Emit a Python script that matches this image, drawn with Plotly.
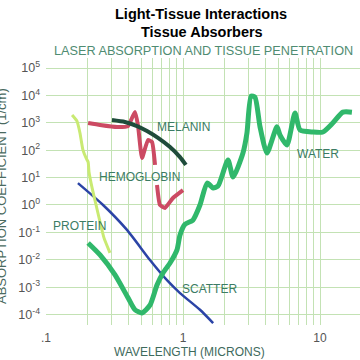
import plotly.graph_objects as go

# ---- data (wavelength in microns, absorption in 1/cm) ----
water_wl = [0.203, 0.248, 0.319, 0.397, 0.446, 0.502, 0.574, 0.646, 0.714, 0.804, 0.904, 0.951,
            1.034, 1.18, 1.33, 1.50, 1.66, 1.80, 2.13, 2.32, 2.74, 2.93, 3.14, 3.35, 3.65, 4.10,
            4.85, 5.11, 5.74, 6.57, 7.14, 8.89, 10.5, 12.4, 14.7, 17.1]
water_abs = [0.041, 0.015, 0.0028, 0.00041, 0.00015, 0.000115, 0.00022, 0.0012, 0.0033, 0.0076,
             0.023, 0.081, 0.20, 0.28, 1.0, 6.3, 4.2, 4.9, 44, 10.5, 79, 430, 9500, 8700, 710,
             79, 710, 355, 155, 2300, 550, 460, 460, 980, 2450, 2450]

melanin_wl = [0.303, 0.377, 0.462, 0.546, 0.657, 0.804, 0.951, 1.05]
melanin_abs = [1260, 1070, 760, 500, 280, 130, 56, 29]

hemo_wl = [0.203, 0.248, 0.330, 0.397, 0.446, 0.469, 0.502, 0.555, 0.594, 0.625, None,
           0.646, 0.679, 0.739, 0.845, 1.0]
hemo_abs = [980, 830, 700, 760, 2500, 830, 52, 235, 200, 29, None,
            5.4, 1.0, 0.78, 1.8, 3.5]

protein_wl = [0.155, 0.168, 0.177, 0.186, 0.196, 0.203, 0.206, 0.217, 0.232, 0.248, 0.265, 0.293]
protein_abs = [1930, 1170, 425, 102, 52, 37, 16, 4.2, 1.0, 0.24, 0.063, 0.018]

scatter_wl = [0.171, 0.261, 0.390, 0.574, 0.764, 0.951, 1.33, 1.66]
scatter_abs = [6.3, 1.0, 0.123, 0.0098, 0.0018, 0.00061, 0.00015, 0.000049]

y_exponents = [5, 4, 3, 2, 1, 0, -1, -2, -3, -4]
x_major = [0.1, 1, 10]
x_major_text = [".1", "1", "10"]
x_minor = [0.2, 0.3, 0.4, 0.5, 0.6, 0.7, 0.8, 0.9, 2, 3, 4, 5, 6, 7, 8, 9]

labels = [  # text, log10 wavelength, log10 absorption
    ("MELANIN", 0.007, 2.85),
    ("HEMOGLOBIN", -0.314, 1.02),
    ("PROTEIN", -0.752, -0.77),
    ("WATER", 0.985, 1.86),
    ("SCATTER", 0.197, -3.07),
]

FONT = "Liberation Sans, Arial, sans-serif"
TEAL = "#3b7c64"
GRID = "#c3e2b4"

fig = go.Figure()
fig.add_trace(go.Scatter(x=scatter_wl, y=scatter_abs, mode="lines",
                         line=dict(color="#2b44a6", width=2.5, shape="spline", smoothing=0.6)))
fig.add_trace(go.Scatter(x=protein_wl, y=protein_abs, mode="lines",
                         line=dict(color="#c9ea72", width=3, shape="spline", smoothing=0.5)))
fig.add_trace(go.Scatter(x=hemo_wl, y=hemo_abs, mode="lines", connectgaps=False,
                         line=dict(color="#cc4a63", width=4, shape="spline", smoothing=0.4)))
fig.add_trace(go.Scatter(x=melanin_wl, y=melanin_abs, mode="lines",
                         line=dict(color="#1f4c3b", width=4, shape="spline", smoothing=0.6)))
fig.add_trace(go.Scatter(x=water_wl, y=water_abs, mode="lines",
                         line=dict(color="#30b86b", width=5, shape="spline", smoothing=0.6)))

for text, lx, ly in labels:
    fig.add_annotation(x=lx, y=ly, xref="x", yref="y", text=text, showarrow=False,
                       xanchor="center", yanchor="middle",
                       font=dict(family=FONT, size=12, color=TEAL))

def px_x(p):
    return (p - 46) / 314

def px_y(p):
    return (325 - p) / 267

# titles
fig.add_annotation(xref="paper", yref="paper", x=px_x(201), y=px_y(14),
                   xanchor="center", yanchor="middle",
                   text="<b>Light-Tissue Interactions</b>", showarrow=False,
                   font=dict(family=FONT, size=14.5, color="black"))
fig.add_annotation(xref="paper", yref="paper", x=px_x(202), y=px_y(32),
                   xanchor="center", yanchor="middle",
                   text="<b>Tissue Absorbers</b>", showarrow=False,
                   font=dict(family=FONT, size=14.5, color="black"))
fig.add_annotation(xref="paper", yref="paper", x=px_x(203), y=px_y(51),
                   xanchor="center", yanchor="middle",
                   text="LASER ABSORPTION AND TISSUE PENETRATION", showarrow=False,
                   font=dict(family=FONT, size=12.7, color="#4f8c72"))
fig.add_annotation(xref="paper", yref="paper", x=px_x(189), y=px_y(352),
                   xanchor="center", yanchor="middle",
                   text="WAVELENGTH (MICRONS)", showarrow=False,
                   font=dict(family=FONT, size=12, color="#3e6a5c"))
fig.add_annotation(xref="paper", yref="paper", x=px_x(2), y=px_y(196),
                   xanchor="center", yanchor="middle",
                   text="ABSORPTION COEFFICIENT (1/cm)", showarrow=False, textangle=-90,
                   font=dict(family=FONT, size=13, color="#4a6a60"))

fig.update_layout(
    width=360, height=360,
    margin=dict(l=46, r=0, t=58, b=35, autoexpand=False),
    paper_bgcolor="white", plot_bgcolor="white",
    showlegend=False,
    font=dict(family=FONT, size=12, color="#555555"),
)
fig.update_xaxes(type="log", range=[-1, 1.292], automargin=False,
                 tickmode="array", tickvals=x_major, ticktext=x_major_text,
                 ticklabelstandoff=4,
                 showgrid=True, gridcolor=GRID, gridwidth=1,
                 minor=dict(tickmode="array", tickvals=x_minor, showgrid=True,
                            gridcolor=GRID, gridwidth=1, ticks=""),
                 zeroline=False, showline=False, ticks="",
                 tickfont=dict(family=FONT, size=12, color="#555555"))
fig.update_yaxes(type="log", range=[-4.38, 5.365], automargin=False,
                 tickmode="array",
                 tickvals=[10.0 ** e for e in y_exponents],
                 ticktext=[f"10<sup>{e}</sup>" for e in y_exponents],
                 ticklabelstandoff=5,
                 showgrid=True, gridcolor=GRID, gridwidth=1,
                 zeroline=False, showline=False, ticks="",
                 tickfont=dict(family=FONT, size=12.5, color="#555555"))

fig.write_html(
    "out.html",
    config={"displayModeBar": False},
    post_script="document.body.style.margin='0px';document.body.style.overflow='hidden';",
)
